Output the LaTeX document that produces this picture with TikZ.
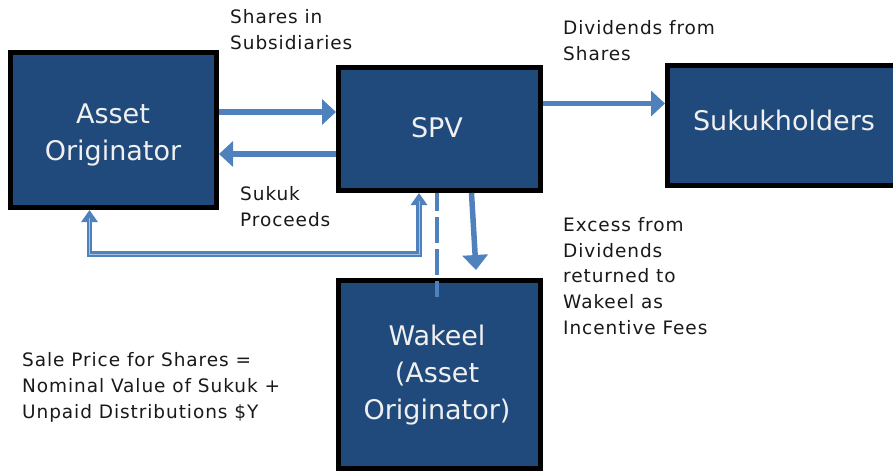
\documentclass[tikz,border=0pt]{standalone}
\usepackage{fontspec}
\setmainfont{DejaVu Sans}
\newfontfamily\lblfont[LetterSpace=5]{DejaVu Sans}
\usetikzlibrary{arrows.meta}
\definecolor{boxblue}{RGB}{32,74,124}
\definecolor{arrowblue}{RGB}{79,129,189}
\definecolor{boxtext}{RGB}{240,240,240}
\definecolor{lbltext}{RGB}{25,25,25}
\tikzset{
  blk/.style={rectangle, draw=black, line width=5pt, fill=boxblue, inner sep=0pt},
  boxtxt/.style={text=boxtext, font=\fontsize{27}{37}\selectfont, align=center, inner sep=0pt},
  lbl/.style={font=\lblfont\fontsize{18.5}{25.8}\selectfont, align=left, text=lbltext, inner sep=0pt, anchor=north west},
  arr/.style={draw=arrowblue, line width=5.5pt, -{Triangle[length=14pt,width=25pt]}},
  dblarr/.style={draw=arrowblue, line width=5.5pt, line join=miter,
     {Triangle[length=12pt,width=16pt]}-{Triangle[length=12pt,width=16pt]}},
  dblinner/.style={draw=white!50!arrowblue, line width=1pt, shorten <=8pt, shorten >=8pt},
  dsh/.style={draw=arrowblue, line width=4.5pt, dash pattern=on 26pt off 6pt, dash phase=8pt}
}
\begin{document}
\begin{tikzpicture}[x=1pt,y=-1pt]
\useasboundingbox (0,0) rectangle (893,471);
% boxes
\node[blk, minimum width=206pt, minimum height=155pt] (asset) at (113.5,130) {};
\node[blk, minimum width=202pt, minimum height=123pt] (spv) at (439.5,129) {};
\node[blk, minimum width=233pt, minimum height=120pt] (suk) at (784,125.5) {};
\node[blk, minimum width=202pt, minimum height=188pt] (wak) at (439.5,374.5) {};
% box texts
\node[boxtxt] (assettxt) at (113,134.8) {Asset\\Originator};
\node[boxtxt, anchor=base] (spvtxt) at (437,137) {SPV};
\node[boxtxt, anchor=base] (suktxt) at (784,130) {Sukukholders};
\node[boxtxt] (waktxt) at (437,374.8) {Wakeel\\(Asset\\Originator)};
% labels
\node[lbl] (lshares) at (230,9.2) {Shares in\\Subsidiaries};
\node[lbl] (lproceeds) at (240,186) {Sukuk\\Proceeds};
\node[lbl] (ldiv) at (563,20) {Dividends from\\Shares};
\node[lbl] (lexcess) at (563,217) {Excess from\\Dividends\\returned to\\Wakeel as\\Incentive Fees};
\node[lbl] (lsale) at (22,352.6) {Sale Price for Shares =\\Nominal Value of Sukuk +\\Unpaid Distributions \$Y};
% level coordinates
\coordinate (yA) at (0,112);
\coordinate (yB) at (0,154);
\coordinate (yC) at (0,103.5);
\coordinate (dA) at (89.5,254);
\coordinate (dS) at (419,254);
\coordinate (xD) at (437,0);
\coordinate (dashend) at (437,297);
\coordinate (xW) at (471.5,0);
\coordinate (wtip) at (476,270);
% connectors
\draw[arr] (asset.east |- yA) -- (spv.west |- yA);
\draw[arr] (spv.west |- yB) -- (asset.east |- yB);
\draw[arr] (spv.east |- yC) -- (suk.west |- yC);
\draw[dblarr] (asset.south -| dA) -- (dA) -- (dS) -- (spv.south -| dS);
\draw[dblinner] (asset.south -| dA) -- (dA) -- (dS) -- (spv.south -| dS);
\draw[dsh] (spv.south -| xD) -- (dashend);
\draw[arr, -{Triangle[length=15pt,width=25pt]}] (spv.south -| xW) -- (wtip);
\end{tikzpicture}
\end{document}
